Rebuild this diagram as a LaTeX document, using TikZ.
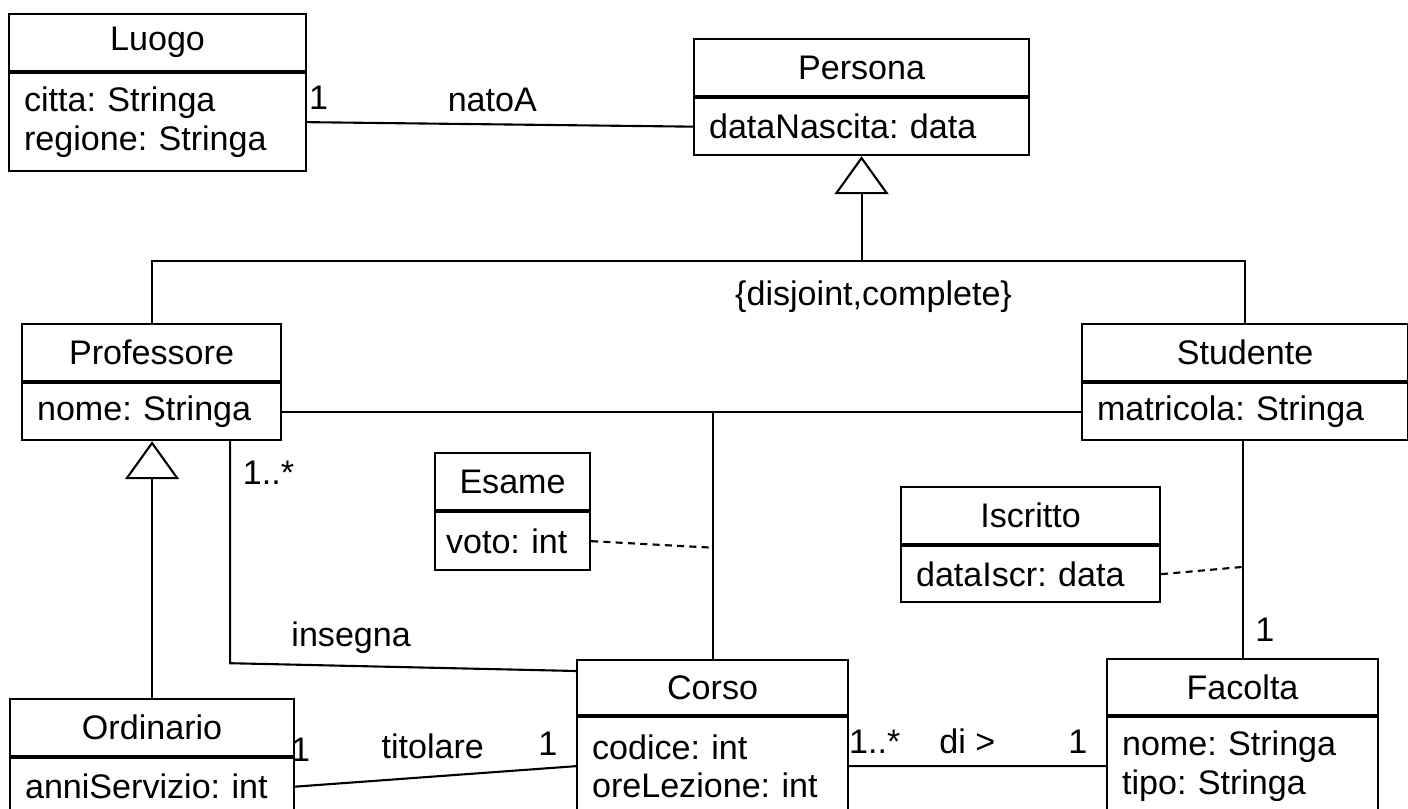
\documentclass[tikz,border=0pt]{standalone}
\usepackage{fontspec}
\setmainfont{Liberation Sans}
\frenchspacing
\usetikzlibrary{arrows.meta,calc,positioning}

\tikzset{
	clsname/.style={draw, anchor=north west, minimum width=#1, minimum height=0.57cm, inner sep=0pt,
		append after command={(\tikzlastnode.south west) edge[line width=1.1pt] (\tikzlastnode.south east)}},
	clsattr/.style 2 args={draw, text width=#1, minimum height=#2, inner xsep=0.15cm, inner ysep=0pt, align=left},
	gen/.style={-{Triangle[open, length=0.38cm, width=0.54cm]}},
	assoc/.style={dashed, dash pattern=on 2pt off 1.5pt}
}

\begin{document}
\begin{tikzpicture}[line width=0.6pt, every node/.style={font=\fontsize{9.7pt}{11pt}\selectfont}]
		\useasboundingbox (0,0) rectangle (14.08,-8.09);
		\clip (0,0) rectangle (14.08,-8.09);
		% classes
		\node[clsname=2.97cm] (luogo) at (0.08,-0.13) {Luogo};
		\node[clsattr={2.67cm}{0.98cm}, below right=0pt and 0pt of luogo.south west] (luogo-a) {citta: Stringa\\regione: Stringa};
		\node[clsname=3.35cm] (persona) at (6.93,-0.38) {Persona};
		\node[clsattr={3.05cm}{0.57cm}, below right=0pt and 0pt of persona.south west] (persona-a) {dataNascita: data};
		\node[clsname=2.59cm] (professore) at (0.21,-3.23) {Professore};
		\node[clsattr={2.29cm}{0.57cm}, below right=0pt and 0pt of professore.south west] (professore-a) {nome: Stringa};
		\node[clsname=3.26cm] (studente) at (10.81,-3.23) {Studente};
		\node[clsattr={2.96cm}{0.57cm}, below right=0pt and 0pt of studente.south west] (studente-a) {matricola: Stringa};
		\node[clsname=1.55cm] (esame) at (4.34,-4.52) {Esame};
		\node[clsattr={1.33cm}{0.58cm}, inner xsep=0.11cm, below right=0pt and 0pt of esame.south west] (esame-a) {voto: int};
		\node[clsname=2.59cm] (iscritto) at (9.00,-4.86) {Iscritto};
		\node[clsattr={2.29cm}{0.56cm}, below right=0pt and 0pt of iscritto.south west] (iscritto-a) {dataIscr: data};
		\node[clsname=2.84cm] (ordinario) at (0.09,-6.98) {Ordinario};
		\node[clsattr={2.54cm}{0.57cm}, below right=0pt and 0pt of ordinario.south west] (ordinario-a) {anniServizio: int};
		\node[clsname=2.71cm, minimum height=0.55cm] (corso) at (5.76,-6.59) {Corso};
		\node[clsattr={2.41cm}{0.98cm}, below right=0pt and 0pt of corso.south west] (corso-a) {codice: int\\oreLezione: int};
		\node[clsname=2.71cm, minimum height=0.56cm] (facolta) at (11.06,-6.58) {Facolta};
		\node[clsattr={2.41cm}{0.98cm}, below right=0pt and 0pt of facolta.south west] (facolta-a) {nome: Stringa\\tipo: Stringa};

		% natoA
		\draw (luogo-a.east) -- node[pos=0.03, above] (m-luogo) {1} node[pos=0.48, above] (l-natoA) {natoA} (persona-a.west);

		% generalizzazioni
		\coordinate (split) at ($(persona-a.south)+(0,-1.05)$);
		\draw (professore.north) |- (split) -| (studente.north);
		\draw[gen] (split) -- (persona-a.south);
		\node (constraint) at ($(split)+(0.12,-0.35)$) {\{disjoint,complete\}};
		\draw[gen] (ordinario.north) -- (ordinario.north |- professore-a.south);

		% Professore - Studente con Esame
		\coordinate (esame-mid) at (corso.north |- professore-a.east);
		\draw (professore-a.east) -- (studente-a.west);
		\draw (corso.north) -- (esame-mid);
		\coordinate (esame-link) at ($(esame-mid)!0.55!(corso.north)$);
		\draw[assoc] (esame-a.east) -- (esame-link);

		% insegna
		\coordinate (ins-top) at ($(professore-a.south east)+(-0.52,0)$);
		\coordinate (ins-bend) at ($(ins-top)+(0,-2.22)$);
		\coordinate (ins-end) at ($(corso.north west)+(0,-0.12)$);
		\draw (ins-top) -- node[pos=0.14, right] (m-insegna) {1..*} (ins-bend) -- node[pos=0.35, above] (l-insegna) {insegna} (ins-end);

		% titolare
		\draw (ordinario-a.east) -- node[pos=0.02, above=0.12cm] (m-ord) {1} node[pos=0.49, above=0.05cm] (l-titolare) {titolare} node[pos=0.9, above] (m-corso) {1} (corso-a.west);

		% Studente - Facolta con Iscritto
		\coordinate (stud-bot) at (facolta.north |- studente-a.south);
		\draw (stud-bot) -- node[pos=0.87, right] (m-fac) {1} (facolta.north);
		\coordinate (iscr-link) at ($(stud-bot)!0.58!(facolta.north)$);
		\draw[assoc] (iscritto-a.east) -- (iscr-link);

		% di
		\draw (corso-a.east) -- node[pos=0.10, above] (m-di) {1..*} node[pos=0.46, above] (l-di) {di >} node[pos=0.89, above] (m-fac2) {1} (facolta-a.west);
	\end{tikzpicture}
\end{document}
